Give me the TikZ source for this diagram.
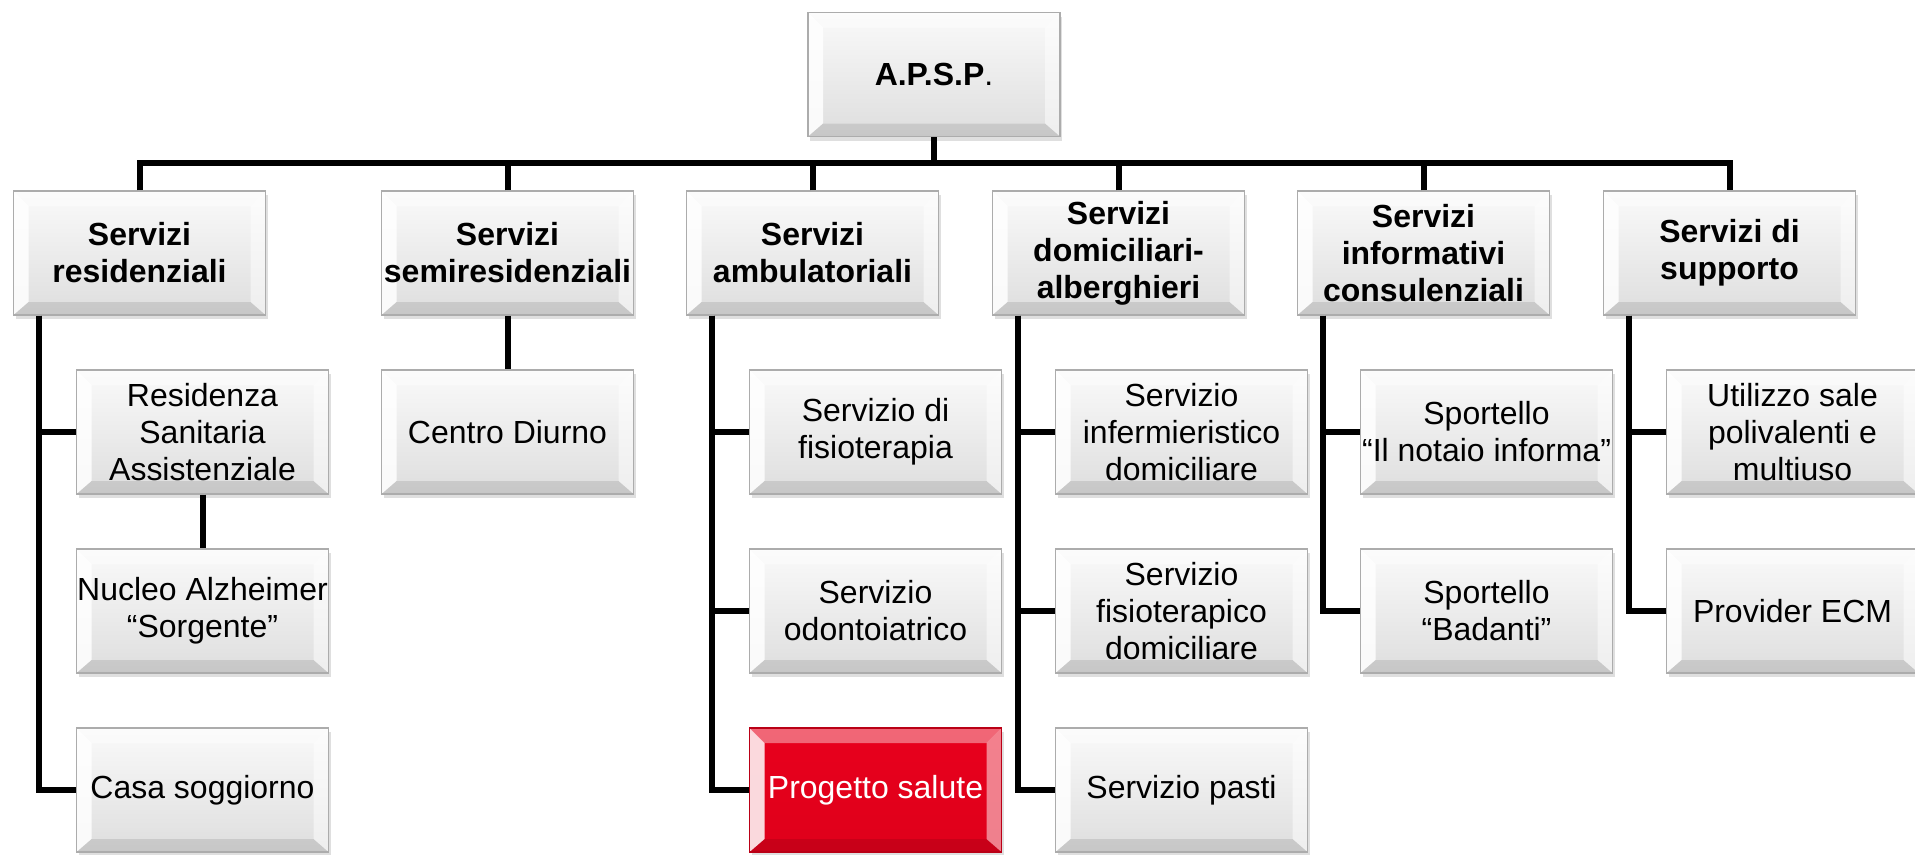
\documentclass[tikz,border=0pt]{standalone}
\usepackage{fontspec}
\setmainfont{Liberation Sans}
\usetikzlibrary{positioning, shadows}
\definecolor{progred}{HTML}{E8001C}
\tikzset{
    on grid,
    node distance=1.79cm,
    bevel/.style={path picture={
        \coordinate (bnw) at (path picture bounding box.north west);
        \coordinate (bne) at (path picture bounding box.north east);
        \coordinate (bsw) at (path picture bounding box.south west);
        \coordinate (bse) at (path picture bounding box.south east);
        \fill[white, opacity=.4] (bnw) -- (bne) -- ([shift={(-.15,-.15)}]bne) -- ([shift={(.15,-.15)}]bnw) -- cycle;
        \fill[white, opacity=.85] (bnw) -- ([shift={(.15,-.15)}]bnw) -- ([shift={(.15,.13)}]bsw) -- (bsw) -- cycle;
        \fill[white, opacity=.5] (bne) -- ([shift={(-.15,-.15)}]bne) -- ([shift={(-.15,.13)}]bse) -- (bse) -- cycle;
        \fill[black, opacity=.1] (bsw) -- ([shift={(.15,.13)}]bsw) -- ([shift={(-.15,.13)}]bse) -- (bse) -- cycle;
    }},
    unit/.style={rectangle, minimum width=2.52cm, minimum height=1.24cm, inner sep=0pt, align=center,
        draw=gray!65, line width=.4pt, top color=gray!4, bottom color=gray!26,
        drop shadow={shadow xshift=.02cm, shadow yshift=-.04cm, opacity=.25},
        font=\fontsize{9.1}{10.5}\selectfont, bevel},
    head/.style={unit, font=\fontsize{9.1}{10.5}\selectfont\bfseries},
    highlight/.style={draw=progred!80!black, top color=progred, bottom color=progred!96!black, text=white},
    link/.style={line width=.06cm},
}

\begin{document}
\begin{tikzpicture}
    \useasboundingbox (0,0) rectangle (19.15,-8.54);

    \node[head] (apsp) at (9.34,-0.745) {A.P.S.P\textmd{.}};

    \node[head] (res) at (1.395,-2.53) {Servizi\\residenziali};
    \node[head, right=3.68 of res] (semi) {Servizi\\semiresidenziali};
    \node[head, right=3.05 of semi] (amb) {Servizi\\ambulatoriali};
    \node[head, right=3.06 of amb] (dom) {Servizi\\domiciliari-\\alberghieri};
    \node[head, right=3.05 of dom] (info) {Servizi\\informativi\\consulenziali};
    \node[head, right=3.06 of info] (supp) {Servizi di\\supporto};

    \node[unit, below right=1.79 and .63 of res] (rsa) {Residenza\\Sanitaria\\Assistenziale};
    \node[unit, below=of rsa] (alz) {Nucleo Alzheimer\\“Sorgente”};
    \node[unit, below=of alz] (casa) {Casa soggiorno};

    \node[unit, below=of semi] (diurno) {Centro Diurno};

    \node[unit, below right=1.79 and .63 of amb] (fisio) {Servizio di\\fisioterapia};
    \node[unit, below=of fisio] (odonto) {Servizio\\odontoiatrico};
    \node[unit, highlight, below=of odonto] (salute) {Progetto salute};

    \node[unit, below right=1.79 and .63 of dom] (inferm) {Servizio\\infermieristico\\domiciliare};
    \node[unit, below=of inferm] (fisiodom) {Servizio\\fisioterapico\\domiciliare};
    \node[unit, below=of fisiodom] (pasti) {Servizio pasti};

    \node[unit, below right=1.79 and .63 of info] (notaio) {Sportello\\“Il notaio informa”};
    \node[unit, below=of notaio] (badanti) {Sportello\\“Badanti”};

    \node[unit, below right=1.79 and .63 of supp] (sale) {Utilizzo sale\\polivalenti e\\multiuso};
    \node[unit, below=of sale] (ecm) {Provider ECM};

    % top bus
    \draw[link] (apsp.south) -- ++(0,-.26) coordinate (bus);
    \draw[link] (res.north) |- (bus) -| (supp.north);
    \foreach \n in {semi, amb, dom, info}
        \draw[link] (\n.north) -- (\n.north |- bus);

    % side brackets
    \foreach \p/\c in {res/rsa, res/casa, amb/fisio, amb/odonto, amb/salute,
        dom/inferm, dom/fisiodom, dom/pasti, info/notaio, info/badanti, supp/sale, supp/ecm}
        \draw[link] ([xshift=-1.01cm]\p.south) |- (\c.west);
    \draw[link] (rsa) -- (alz);
    \draw[link] (semi) -- (diurno);
\end{tikzpicture}
\end{document}
